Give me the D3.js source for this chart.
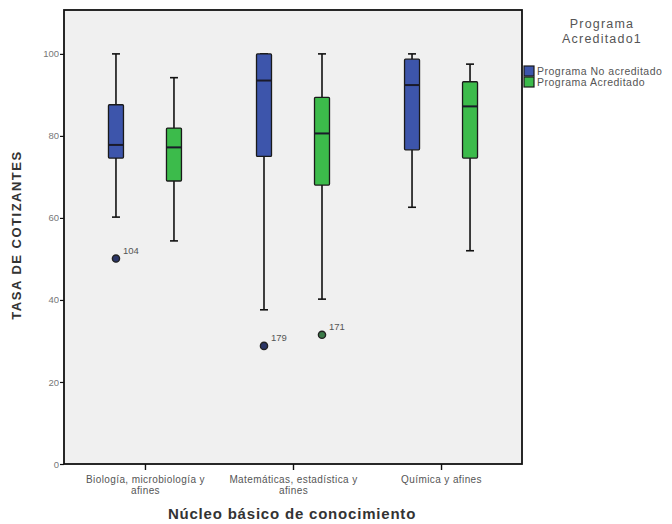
<!DOCTYPE html>
<html>
<head>
<meta charset="utf-8">
<script src="https://cdn.jsdelivr.net/npm/d3@7"></script>
<style>
  body { margin: 0; background: #fff; }
  text { font-family: Arial, "Liberation Sans", sans-serif; }
</style>
</head>
<body>
<div id="chart"></div>
<script>
// categories and series
var categories = ["Biología, microbiología y afines", "Matemáticas, estadística y afines", "Química y afines"];
var categoryLines = [["Biología, microbiología y", "afines"], ["Matemáticas, estadística y", "afines"], ["Química y afines"]];
var seriesNames = ["Programa No acreditado", "Programa Acreditado"];
var seriesColors = ["#3d55ab", "#3cbb4b"];

// box statistics per category, one array per series: [whiskerLow, q1, median, q3, whiskerHigh]
var noAcreditado = [
    [60.2, 74.6, 77.8, 87.6, 100],
    [37.6, 75.0, 93.5, 100, 100],
    [62.6, 76.6, 92.4, 98.7, 100]
];
var acreditado = [
    [54.4, 69.0, 77.2, 81.9, 94.2],
    [40.2, 68.0, 80.6, 89.4, 100],
    [52.0, 74.6, 87.2, 93.2, 97.5]
];

// outliers: category index, series index, value, case label
var outlierCat = [0, 1, 1];
var outlierSeries = [0, 0, 1];
var outlierValues = [50.1, 28.8, 31.5];
var outlierLabels = ["104", "179", "171"];

var yTicks = [0, 20, 40, 60, 80, 100];

(function () {
    var margin = { top: 10, left: 64 },
        width = 458,
        height = 454;

    var svg = d3.select("#chart").append("svg")
        .attr("width", 672)
        .attr("height", 524);

    var g = svg.append("g")
        .attr("transform", "translate(" + margin.left + "," + margin.top + ")");

    var x = d3.scalePoint()
        .domain(categories)
        .range([0, width])
        .padding(0.547);

    var offset = d3.scalePoint()
        .domain([0, 1])
        .range([-29, 29]);

    var y = d3.scaleLinear()
        .domain([0, 110.7])
        .range([height, 0]);

    // plot background
    g.append("rect")
        .attr("width", width)
        .attr("height", height)
        .attr("fill", "#f0f0f0");

    var boxW = 15, capW = 8;
    var series = [noAcreditado, acreditado];

    series.forEach(function (stats, si) {
        var grp = g.append("g").attr("class", "series" + si);
        stats.forEach(function (s, ci) {
            var cx = x(categories[ci]) + offset(si);
            // whiskers
            grp.append("line")
                .attr("x1", cx).attr("x2", cx)
                .attr("y1", y(s[0])).attr("y2", y(s[1]))
                .attr("stroke", "#111").attr("stroke-width", 1.6);
            grp.append("line")
                .attr("x1", cx).attr("x2", cx)
                .attr("y1", y(s[3])).attr("y2", y(s[4]))
                .attr("stroke", "#111").attr("stroke-width", 1.6);
            [s[0], s[4]].forEach(function (v) {
                grp.append("line")
                    .attr("x1", cx - capW / 2).attr("x2", cx + capW / 2)
                    .attr("y1", y(v)).attr("y2", y(v))
                    .attr("stroke", "#111").attr("stroke-width", 1.6);
            });
            // box
            grp.append("rect")
                .attr("x", cx - boxW / 2)
                .attr("y", y(s[3]))
                .attr("width", boxW)
                .attr("height", y(s[1]) - y(s[3]))
                .attr("rx", 1)
                .attr("fill", seriesColors[si])
                .attr("stroke", "#1a1a1a")
                .attr("stroke-width", 1.3);
            // median
            grp.append("line")
                .attr("x1", cx - boxW / 2).attr("x2", cx + boxW / 2)
                .attr("y1", y(s[2])).attr("y2", y(s[2]))
                .attr("stroke", "#1a1a2a").attr("stroke-width", 2);
        });
    });

    // outliers
    outlierValues.forEach(function (v, i) {
        var cx = x(categories[outlierCat[i]]) + offset(outlierSeries[i]);
        g.append("circle")
            .attr("cx", cx)
            .attr("cy", y(v))
            .attr("r", 3.6)
            .attr("fill", outlierSeries[i] == 0 ? "#2a3566" : "#3a7a48")
            .attr("stroke", "#222")
            .attr("stroke-width", 1.4);
        g.append("text")
            .attr("x", cx + 7)
            .attr("y", y(v) - 5)
            .style("font-size", "9.5px")
            .style("fill", "#555")
            .text(outlierLabels[i]);
    });

    // frame
    g.append("rect")
        .attr("width", width)
        .attr("height", height)
        .attr("fill", "none")
        .attr("stroke", "#111")
        .attr("stroke-width", 1.8);

    // y axis
    var yAxis = d3.axisLeft(y).tickValues(yTicks).tickSize(4).tickPadding(1);
    var ya = g.append("g").call(yAxis);
    ya.select(".domain").remove();
    ya.selectAll("line").attr("stroke", "#111").attr("stroke-width", 1.2);
    ya.selectAll("text").style("font-size", "9.5px").style("fill", "#777")
        .style("font-family", "Arial, 'Liberation Sans', sans-serif");

    // x axis
    var xAxis = d3.axisBottom(x).tickSize(6).tickFormat("");
    var xa = g.append("g").attr("transform", "translate(0," + height + ")").call(xAxis);
    xa.select(".domain").remove();
    xa.selectAll("line").attr("stroke", "#111").attr("stroke-width", 1.4);
    xa.selectAll(".tick").each(function (d, i) {
        var t = d3.select(this).append("text")
            .attr("text-anchor", "middle")
            .attr("fill", "#555")
            .style("font-size", "10px")
            .style("letter-spacing", "0.4px");
        categoryLines[i].forEach(function (line, li) {
            t.append("tspan").attr("x", 0).attr("y", 19 + li * 11).text(line);
        });
    });

    // axis titles
    svg.append("text")
        .attr("transform", "translate(21," + (margin.top + 225) + ") rotate(-90)")
        .attr("text-anchor", "middle")
        .style("font-size", "13px")
        .style("font-weight", "bold")
        .style("letter-spacing", "1.5px")
        .style("fill", "#333")
        .text("TASA DE COTIZANTES");

    svg.append("text")
        .attr("x", margin.left + width / 2 - 1)
        .attr("y", 519)
        .attr("text-anchor", "middle")
        .style("font-size", "15px")
        .style("font-weight", "bold")
        .style("letter-spacing", "0.8px")
        .style("fill", "#333")
        .text("Núcleo básico de conocimiento");

    // legend
    var lg = svg.append("g").attr("transform", "translate(523,0)");
    lg.append("text")
        .attr("x", 79).attr("y", 28)
        .attr("text-anchor", "middle")
        .style("font-size", "12.5px").style("fill", "#555")
        .style("letter-spacing", "1.2px")
        .text("Programa");
    lg.append("text")
        .attr("x", 79).attr("y", 43)
        .attr("text-anchor", "middle")
        .style("font-size", "12.5px").style("fill", "#555")
        .style("letter-spacing", "1.2px")
        .text("Acreditado1");
    seriesNames.forEach(function (name, i) {
        lg.append("rect")
            .attr("x", 1).attr("y", 66 + i * 11)
            .attr("width", 10).attr("height", 10)
            .attr("fill", seriesColors[i])
            .attr("stroke", "#1a1a1a").attr("stroke-width", 1.2);
        lg.append("text")
            .attr("x", 14).attr("y", 75 + i * 11)
            .style("font-size", "10.5px").style("fill", "#555")
            .style("letter-spacing", "0.5px")
            .text(name);
    });
})();
</script>
</body>
</html>
